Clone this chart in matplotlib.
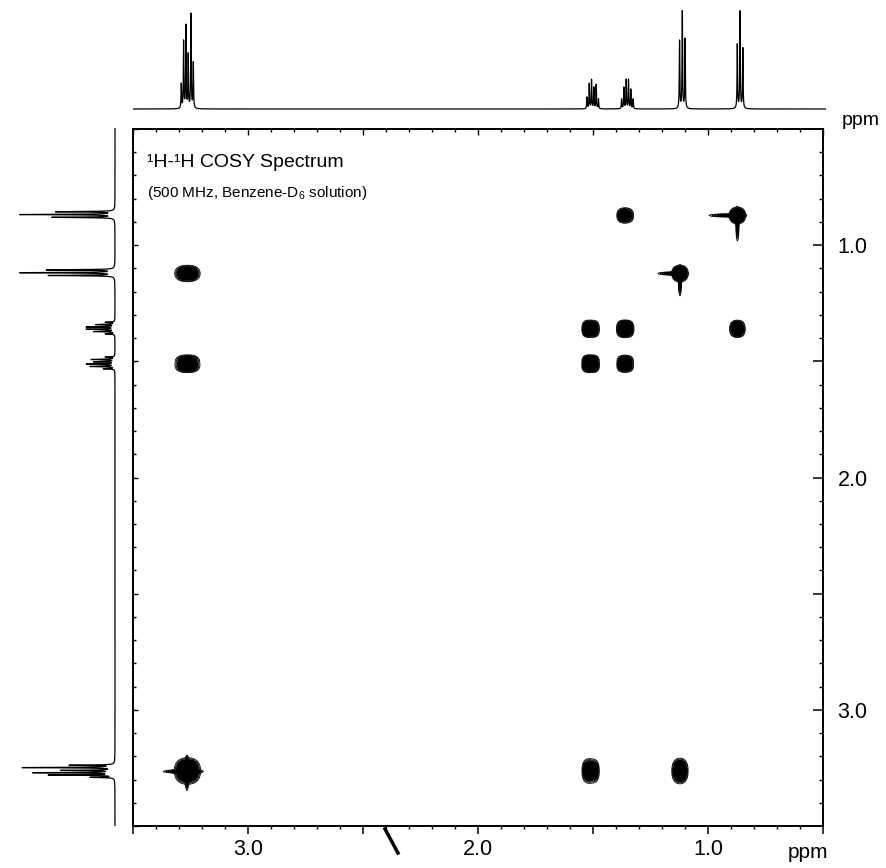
import numpy as np
import matplotlib
matplotlib.use("Agg")
import matplotlib.pyplot as plt
from matplotlib.ticker import MultipleLocator, FuncFormatter, NullFormatter
from matplotlib.lines import Line2D

plt.rcParams['font.family'] = ['Liberation Sans', 'DejaVu Sans']
plt.rcParams['mathtext.fontset'] = 'custom'
plt.rcParams['mathtext.rm'] = 'Liberation Sans'
plt.rcParams['mathtext.it'] = 'Liberation Sans'
plt.rcParams['mathtext.bf'] = 'Liberation Sans'

# ---------------- data ----------------
# 1H multiplets: line positions (ppm) and relative heights
mult_a_ppm = [3.291, 3.281, 3.271, 3.261, 3.249, 3.239]
mult_a_int = [0.25, 0.69, 0.85, 0.55, 0.97, 0.47]
mult_b_ppm = [1.535, 1.525, 1.515, 1.505, 1.495, 1.485]
mult_b_int = [0.12, 0.26, 0.30, 0.22, 0.25, 0.10]
mult_c_ppm = [1.385, 1.375, 1.365, 1.355, 1.345, 1.335]
mult_c_int = [0.10, 0.22, 0.30, 0.30, 0.20, 0.10]
mult_d_ppm = [1.134, 1.122, 1.110]
mult_d_int = [0.70, 1.00, 0.72]
mult_e_ppm = [0.884, 0.872, 0.860]
mult_e_int = [0.66, 1.00, 0.62]

multiplets = {
    'a': (mult_a_ppm, mult_a_int),
    'b': (mult_b_ppm, mult_b_int),
    'c': (mult_c_ppm, mult_c_int),
    'd': (mult_d_ppm, mult_d_int),
    'e': (mult_e_ppm, mult_e_int),
}
# 2D line width of each multiplet in the contour map (ppm)
width_2d = {'a': 0.016, 'b': 0.0075, 'c': 0.0075, 'd': 0.011, 'e': 0.011}

# COSY peaks: F2 multiplet, F1 multiplet, relative intensity
peak_f2 = ['a', 'b', 'c', 'd', 'e', 'a', 'd', 'a', 'b', 'c', 'e', 'b', 'c']
peak_f1 = ['a', 'b', 'c', 'd', 'e', 'd', 'a', 'b', 'a', 'e', 'c', 'c', 'b']
peak_amp = [1.0, 0.75, 0.8, 0.9, 0.95, 0.8, 0.8, 0.7, 0.6, 0.55, 0.65, 0.7, 0.55]

# t1-noise streaks on diagonal peaks: multiplet, streak lengths (ppm);
# positive = towards higher ppm (left / down), negative = right / up
streak_mult = ['a', 'a', 'd', 'e']
streak_h_len = [0.075, -0.05, 0.07, 0.09]
streak_v_len = [0.06, -0.05, 0.07, 0.08]

x_ticks_major = [3.0, 2.0, 1.0]

# ---------------- figure ----------------
W, H = 887, 868
fig = plt.figure(figsize=(W / 100, H / 100), dpi=100)

def fx(px):
    return px / W

def fy(py):
    return 1 - py / H

ax = fig.add_axes([fx(133), fy(826), 690 / W, 697 / H])
ax_top = fig.add_axes([fx(133), fy(112), 693 / W, 112 / H])
ax_left = fig.add_axes([0, fy(826), 120 / W, 698 / H])

def spectrum_1d(grid, w):
    s = np.zeros_like(grid)
    for k, (pp, hh) in multiplets.items():
        for p, h in zip(pp, hh):
            s += h * w ** 2 / ((grid - p) ** 2 + w ** 2)
    return s

g1 = np.linspace(3.5, 0.5, 9000)
spec = spectrum_1d(g1, 0.0013)

ax_top.plot(g1, spec, color='black', lw=0.9)
ax_top.set_xlim(3.5, 0.5)
ax_top.set_ylim(-3 / 97, 109 / 97)
ax_top.axis('off')

ax_left.plot(spec, g1, color='black', lw=0.9)
ax_left.set_ylim(3.5, 0.5)
ax_left.set_xlim(115 / 94, -5 / 94)
ax_left.axis('off')

# 2D contour surface
N = 1300
gx = np.linspace(3.5, 0.5, N)
gy = np.linspace(3.5, 0.5, N)

def mult_profile(grid, key):
    pp, hh = multiplets[key]
    sigma = width_2d[key]
    prof = np.zeros_like(grid)
    for p, h in zip(pp, hh):
        prof += h * np.exp(-(grid - p) ** 2 / (2 * sigma ** 2))
    return prof / prof.max()

Z = np.zeros((N, N))
for f2, f1, a in zip(peak_f2, peak_f1, peak_amp):
    Z += a * np.outer(mult_profile(gy, f1), mult_profile(gx, f2))

for key, hl, vl in zip(streak_mult, streak_h_len, streak_v_len):
    c = float(np.mean(multiplets[key][0]))
    Z += 0.22 * np.outer(np.exp(-(gy - c) ** 2 / (2 * 0.0035 ** 2)),
                         np.exp(-(gx - (c + hl / 2)) ** 2 / (2 * (abs(hl) / 2.2) ** 2)))
    Z += 0.22 * np.outer(np.exp(-(gy - (c + vl / 2)) ** 2 / (2 * (abs(vl) / 2.2) ** 2)),
                         np.exp(-(gx - c) ** 2 / (2 * 0.0035 ** 2)))

ax.contourf(gx, gy, Z, levels=[0.13, 100], colors=['black'])
ax.contour(gx, gy, Z, levels=[0.035, 0.06, 0.09], colors='black', linewidths=0.6)

ax.set_xlim(3.5, 0.5)
ax.set_ylim(3.5, 0.5)

def lab(v, p):
    if any(abs(v - t) < 1e-6 for t in x_ticks_major):
        return f"{v:.1f}"
    return ""

for a_ in (ax.xaxis, ax.yaxis):
    a_.set_major_locator(MultipleLocator(0.5))
    a_.set_minor_locator(MultipleLocator(0.1))
    a_.set_major_formatter(FuncFormatter(lab))

ax.yaxis.tick_right()
ax.tick_params(axis='x', which='major', direction='out', length=5.5, width=1.1,
               labelsize=15.5, pad=4)
ax.tick_params(axis='x', which='minor', direction='out', length=2.5, width=1.0)
ax.tick_params(axis='y', which='major', direction='in', length=7.5, width=1.1,
               labelsize=15.5, pad=10.5, right=True, left=False)
ax.tick_params(axis='y', which='minor', direction='in', length=3.0, width=1.0,
               right=True, left=False)
for sp in ax.spines.values():
    sp.set_linewidth(1.4)

sec_top = ax.secondary_xaxis('top')
sec_top.xaxis.set_major_locator(MultipleLocator(0.5))
sec_top.xaxis.set_minor_locator(MultipleLocator(0.1))
sec_top.xaxis.set_major_formatter(NullFormatter())
sec_top.tick_params(axis='x', which='major', direction='in', length=4.5, width=1.0)
sec_top.tick_params(axis='x', which='minor', direction='in', length=2.5, width=1.0)
sec_top.spines['top'].set_linewidth(1.4)

sec_left = ax.secondary_yaxis('left')
sec_left.yaxis.set_major_locator(MultipleLocator(0.5))
sec_left.yaxis.set_minor_locator(MultipleLocator(0.1))
sec_left.yaxis.set_major_formatter(NullFormatter())
sec_left.tick_params(axis='y', which='major', direction='in', length=3.5, width=1.0)
sec_left.tick_params(axis='y', which='minor', direction='in', length=2.5, width=1.0)
sec_left.spines['left'].set_linewidth(1.4)

fig.text(fx(147), fy(167), "¹H-¹H COSY Spectrum", fontsize=14, va='baseline', ha='left')
fig.text(fx(147), fy(197), "(500 MHz, Benzene-D$_6$ solution)", fontsize=11,
         va='baseline', ha='left')
fig.text(fx(808), fy(853), "ppm", fontsize=15, ha='center', va='center')
fig.text(fx(842), fy(120), "ppm", fontsize=14, ha='left', va='center')

fig.add_artist(Line2D([fx(385), fx(398)], [fy(829), fy(853)], color='black', lw=2.5))

fig.savefig("out.png", dpi=100)
